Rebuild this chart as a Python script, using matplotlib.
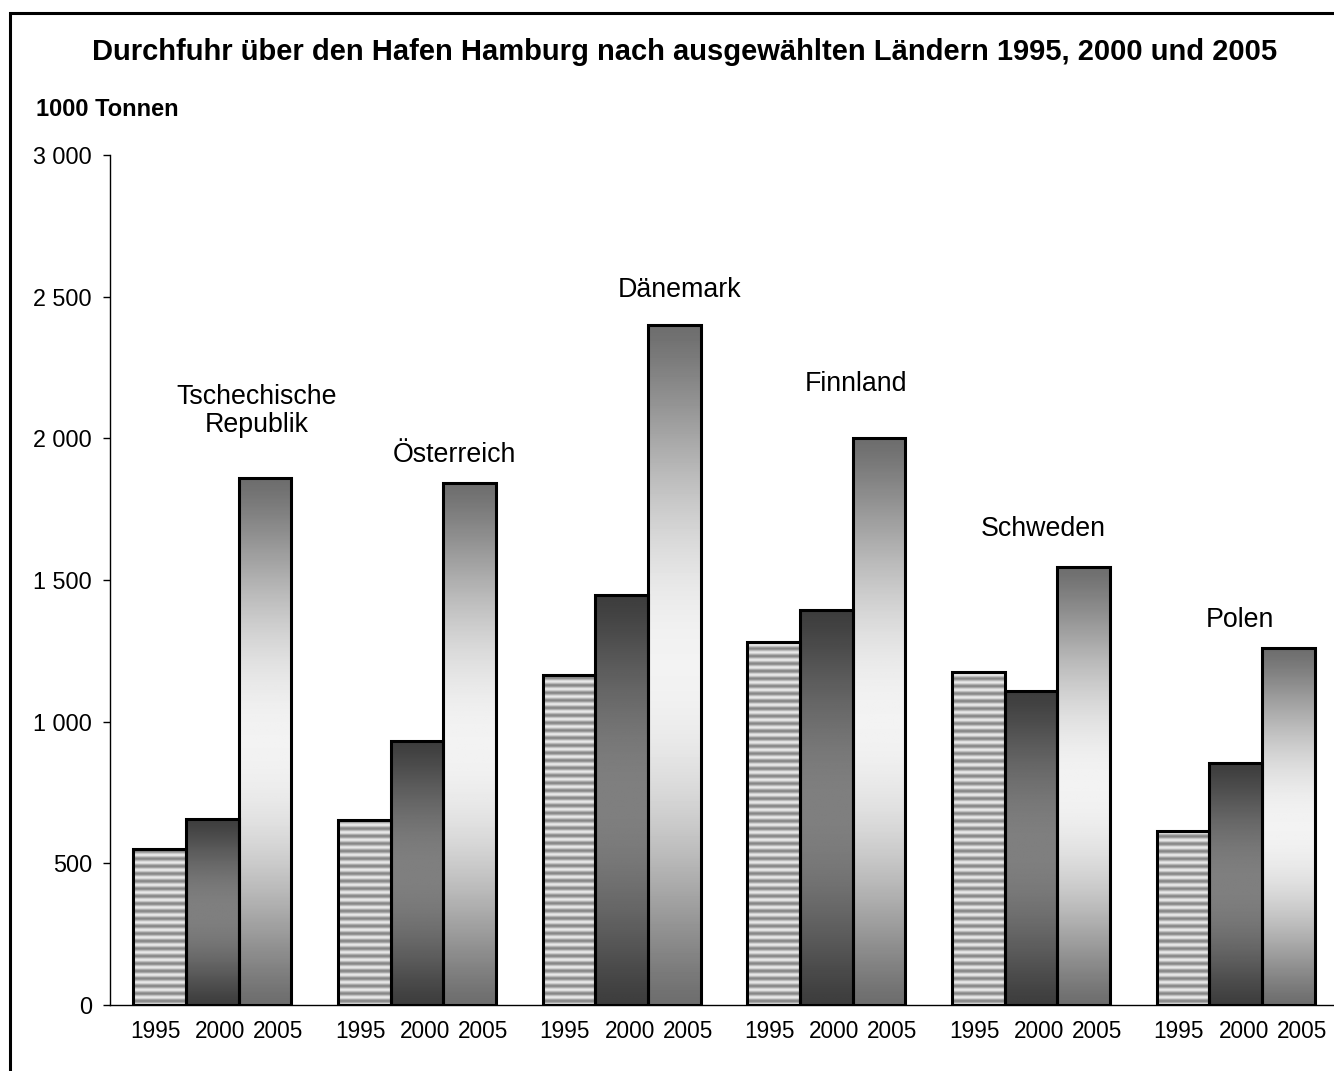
import numpy as np
import matplotlib.pyplot as plt
from matplotlib.patches import Rectangle

plt.rcParams['font.family'] = ['Liberation Sans', 'DejaVu Sans']

# Durchfuhr in 1000 Tonnen
countries = ['Tschechische\nRepublik', 'Österreich', 'Dänemark', 'Finnland', 'Schweden', 'Polen']
years = ['1995', '2000', '2005']
v1995 = [550, 652, 1165, 1281, 1175, 614]
v2000 = [657, 932, 1447, 1394, 1108, 854]
v2005 = [1860, 1843, 2400, 2001, 1546, 1260]

# Lage der Länderbeschriftungen (x in Gruppeneinheiten, y in 1000 t)
label_x = [0.218, 1.185, 2.285, 3.144, 4.058, 5.02]
label_y = [2097, 1941, 2524, 2192, 1680, 1359]

W, H = 1334, 1071
fig = plt.figure(figsize=(W / 100, H / 100), dpi=100)
ax = fig.add_axes([110 / W, (H - 1005) / H, 1228 / W, 850 / H])

bw = 0.257
x = np.arange(len(countries))


def stripes(h):
    # horizontale Streifen, Periode ~7.5 px
    period = 26.5
    yy = np.linspace(0, h, max(int(h / 2), 4))
    g = 0.72 + 0.2 * np.cos(2 * np.pi * yy / period)
    return np.repeat(g[:, None], 2, axis=1)


def grad(lo, hi, n=200):
    t = np.linspace(0, 1, n)
    g = lo + (hi - lo) * np.sin(np.pi * t) ** 1.2
    return np.repeat(g[:, None], 2, axis=1)


for vals, off, kind in [(v1995, -1, 's'), (v2000, 0, 'd'), (v2005, 1, 'l')]:
    for xi, v in zip(x, vals):
        x0 = xi + off * bw - bw / 2
        if kind == 's':
            img = stripes(v)
        elif kind == 'd':
            img = grad(0.24, 0.50)
        else:
            img = grad(0.43, 0.95)
        ax.imshow(img, extent=[x0, x0 + bw, 0, v], origin='lower', aspect='auto',
                  cmap='gray', vmin=0, vmax=1, interpolation='bilinear', zorder=1)
        ax.add_patch(Rectangle((x0, 0), bw, v, facecolor='none', edgecolor='black',
                               linewidth=2.2, zorder=2))

for lx, ly, name in zip(label_x, label_y, countries):
    ax.text(lx, ly, name, ha='center', va='center', fontsize=19.3, linespacing=1.12)

ax.set_xlim(-0.5, 5.5)
ax.set_ylim(0, 3000)
ax.set_yticks(np.arange(0, 3001, 500))
ax.set_yticklabels(['0', '500', '1 000', '1 500', '2 000', '2 500', '3 000'], fontsize=16.8)
ax.tick_params(axis='y', length=5, width=1, pad=8)

# Jahreszahlen etwas auseinandergezogen wie im Original
xt = np.concatenate([x - bw - 0.02, x + 0.04, x + bw + 0.065])
xl = [years[0]] * 6 + [years[1]] * 6 + [years[2]] * 6
ax.set_xticks(xt)
ax.set_xticklabels(xl, fontsize=16.3)
ax.tick_params(axis='x', length=0, pad=11)

ax.spines['top'].set_visible(False)
ax.spines['right'].set_visible(False)
ax.spines['left'].set_linewidth(1)
ax.spines['bottom'].set_linewidth(1)

fig.text(685 / W, 1 - 52 / H, 'Durchfuhr über den Hafen Hamburg nach ausgewählten Ländern 1995, 2000 und 2005',
         ha='center', va='center', fontsize=21, fontweight='bold')
fig.text(36 / W, 1 - 110 / H, '1000 Tonnen', ha='left', va='center', fontsize=17, fontweight='bold')

fig.add_artist(Rectangle((9.5 / W, -0.05), 1.1, 1 - 13.5 / H + 0.05, transform=fig.transFigure,
                         facecolor='none', edgecolor='black', linewidth=2.2))

fig.savefig('out.png', dpi=100)
